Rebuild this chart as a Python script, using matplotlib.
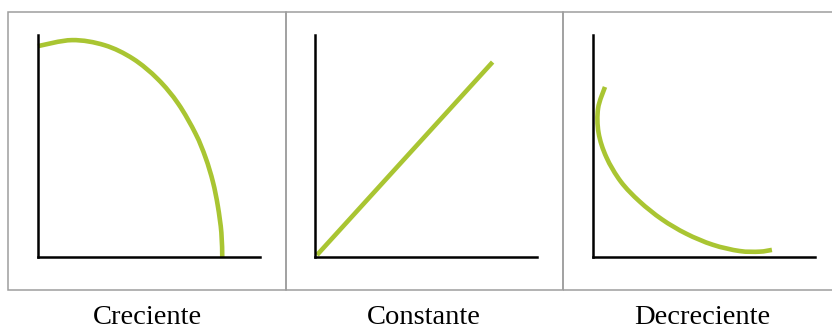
import matplotlib.pyplot as plt
from matplotlib.patches import Rectangle, PathPatch
from matplotlib.path import Path

W, H = 832, 329
GREEN = '#a9c532'

titles = ['Creciente', 'Constante', 'Decreciente']

# curvas (x, y) en unidades del eje, 0..10
creciente_x = [0.0, 1.53, 3.0, 4.28, 5.4, 6.32, 7.1, 7.55, 7.88, 8.1, 8.26, 8.3]
creciente_y = [9.5, 9.77, 9.54, 8.93, 8.01, 6.9, 5.55, 4.47, 3.38, 2.3, 1.1, 0.0]

constante_x = [0.09, 8.0]
constante_y = [0.09, 8.78]

decreciente_x = [0.54, 0.23, 0.25, 0.6, 1.25, 2.1, 3.1, 4.2, 5.4, 6.6, 7.5, 8.06]
decreciente_y = [7.66, 6.7, 5.6, 4.5, 3.4, 2.5, 1.7, 1.05, 0.55, 0.27, 0.24, 0.32]

series = [(creciente_x, creciente_y),
          (constante_x, constante_y),
          (decreciente_x, decreciente_y)]

# cajas (px): borde izquierdo, borde derecho; origen de ejes
boxes = [(8, 286), (286, 563), (563, 840)]
origins = [38, 315, 593]
box_top, box_bot = 12, 290
ax_top, ax_bot, ax_len = 35, 257, 222
label_x = [147, 424, 702]


def smooth_path(xs, ys):
    """Curva suave (Bezier cúbica, estilo Catmull-Rom) por los puntos dados."""
    pts = list(zip(xs, ys))
    verts = [pts[0]]
    codes = [Path.MOVETO]
    n = len(pts)
    for k in range(n - 1):
        p0 = pts[k - 1] if k > 0 else pts[k]
        p1 = pts[k]
        p2 = pts[k + 1]
        p3 = pts[k + 2] if k + 2 < n else pts[k + 1]
        c1 = (p1[0] + (p2[0] - p0[0]) / 6, p1[1] + (p2[1] - p0[1]) / 6)
        c2 = (p2[0] - (p3[0] - p1[0]) / 6, p2[1] - (p3[1] - p1[1]) / 6)
        verts += [c1, c2, p2]
        codes += [Path.CURVE4] * 3
    return Path(verts, codes)


fig = plt.figure(figsize=(W / 100, H / 100), dpi=100)

for (x0, x1) in boxes:
    fig.patches.append(Rectangle((x0 / W, 1 - box_bot / H), (x1 - x0) / W,
                                 (box_bot - box_top) / H, transform=fig.transFigure,
                                 fill=False, edgecolor='#9e9e9e', lw=1.1))

for i, (xs, ys) in enumerate(series):
    ax = fig.add_axes([origins[i] / W, 1 - ax_bot / H, ax_len / W, (ax_bot - ax_top) / H])
    ax.set_xlim(0, 10)
    ax.set_ylim(0, 10)
    ax.patch.set_alpha(0)
    for s in ['top', 'right']:
        ax.spines[s].set_visible(False)
    for s in ['left', 'bottom']:
        ax.spines[s].set_linewidth(1.8)
        ax.spines[s].set_color('black')
    ax.set_xticks([])
    ax.set_yticks([])
    ax.add_patch(PathPatch(smooth_path(xs, ys), facecolor='none', edgecolor=GREEN,
                           lw=3.3, capstyle='butt', joinstyle='round', clip_on=False))
    fig.text(label_x[i] / W, 1 - 318 / H, titles[i], ha='center', va='center',
             family='Liberation Serif', fontsize=20.5)

fig.savefig('out.png', dpi=100)
